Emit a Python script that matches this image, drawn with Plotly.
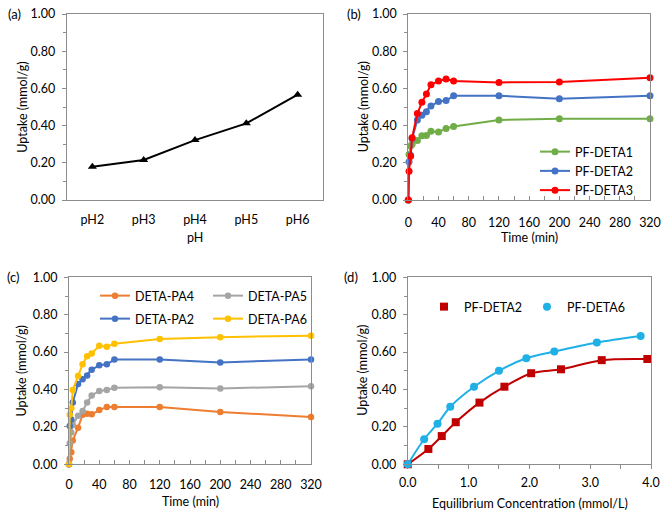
import plotly.graph_objects as go

# ---------------- data ----------------
ph_labels = ["pH2", "pH3", "pH4", "pH5", "pH6"]
ph_uptake = [0.179, 0.215, 0.322, 0.412, 0.566]

times = [0, 1, 3, 5, 12, 18, 24, 30, 40, 50, 60, 120, 200, 320]
pf_deta1 = [0, 0.245, 0.29, 0.30, 0.32, 0.345, 0.347, 0.37, 0.365, 0.385, 0.395, 0.43, 0.437, 0.437]
pf_deta2 = [0, 0.205, 0.24, 0.33, 0.43, 0.455, 0.475, 0.505, 0.53, 0.535, 0.56, 0.56, 0.545, 0.56]
pf_deta3 = [0, 0.155, 0.235, 0.335, 0.465, 0.525, 0.57, 0.62, 0.64, 0.65, 0.64, 0.632, 0.635, 0.657]

deta_pa4 = [0, 0.03, 0.064, 0.127, 0.196, 0.265, 0.27, 0.267, 0.29, 0.307, 0.307, 0.307, 0.28, 0.253]
deta_pa5 = [0, 0.113, 0.17, 0.21, 0.26, 0.285, 0.33, 0.368, 0.392, 0.397, 0.41, 0.412, 0.405, 0.418]
deta_pa2 = pf_deta2
deta_pa6 = [0, 0.265, 0.30, 0.397, 0.472, 0.535, 0.578, 0.593, 0.634, 0.628, 0.645, 0.67, 0.68, 0.688]

ce_deta2 = [0, 0.34, 0.56, 0.79, 1.18, 1.59, 2.03, 2.52, 3.19, 3.94]
q_deta2 = [0, 0.082, 0.151, 0.225, 0.33, 0.415, 0.487, 0.508, 0.557, 0.563]
ce_deta6 = [0, 0.27, 0.49, 0.70, 1.09, 1.50, 1.95, 2.41, 3.11, 3.83]
q_deta6 = [0, 0.134, 0.217, 0.308, 0.415, 0.50, 0.567, 0.603, 0.651, 0.686]

y_title = "Uptake (mmol/g)"
x_titles = ["pH", "Time (min)", "Time (min)", "Equilibrium Concentration (mmol/L)"]
panel_labels = ["(a)", "(b)", "(c)", "(d)"]

# ---------------- styling ----------------
FONT = "Lato"
FS = 12.5
AXC = "#8c8c8c"
W, H = 671, 516

fig = go.Figure()

def line_trace(x, y, name, color, xa, ya, legend=None, symbol="circle", size=7, show=True):
    fig.add_trace(go.Scatter(
        x=x, y=y, name=name, mode="lines+markers",
        line=dict(color=color, width=2),
        marker=dict(color=color, size=size, symbol=symbol),
        xaxis=xa, yaxis=ya, cliponaxis=False,
        showlegend=show, legend=legend))

# (a)
line_trace(ph_labels, ph_uptake, "pH", "#000000", "x", "y", symbol="triangle-up", size=8, show=False)
# (b)
line_trace(times, pf_deta1, "PF-DETA1", "#70AD47", "x2", "y2", legend="legend")
line_trace(times, pf_deta2, "PF-DETA2", "#4472C4", "x2", "y2", legend="legend")
line_trace(times, pf_deta3, "PF-DETA3", "#FF0000", "x2", "y2", legend="legend")
# (c)
line_trace(times, deta_pa4, "DETA-PA4", "#ED7D31", "x3", "y3", legend="legend2", size=6.5)
line_trace(times, deta_pa5, "DETA-PA5", "#A5A5A5", "x3", "y3", legend="legend2", size=6.5)
line_trace(times, deta_pa2, "DETA-PA2", "#4472C4", "x3", "y3", legend="legend4", size=6.5)
line_trace(times, deta_pa6, "DETA-PA6", "#FFC000", "x3", "y3", legend="legend4", size=6.5)
# (d) smooth lines + markers
for ce, q, name, color, sym in [(ce_deta2, q_deta2, "PF-DETA2", "#C00000", "square"),
                                 (ce_deta6, q_deta6, "PF-DETA6", "#1FB0E6", "circle")]:
    fig.add_trace(go.Scatter(x=ce, y=q, mode="lines", line=dict(color=color, width=2, shape="spline", smoothing=0.8),
                             xaxis="x4", yaxis="y4", showlegend=False, hoverinfo="skip", cliponaxis=False))
    fig.add_trace(go.Scatter(x=ce, y=q, name=name, mode="markers",
                             marker=dict(color=color, size=8, symbol=sym),
                             xaxis="x4", yaxis="y4", legend="legend3", cliponaxis=False))

def px_x(p):
    return p / W

def px_y(p):
    return 1 - p / H

doms = {
    "a": ([px_x(66.7), px_x(323.3)], [px_y(200), px_y(14)]),
    "b": ([px_x(408.3), px_x(650)], [px_y(200), px_y(14)]),
    "c": ([px_x(69), px_x(311)], [px_y(464.3), px_y(277.3)]),
    "d": ([px_x(407.7), px_x(651)], [px_y(464.3), px_y(277.3)]),
}

def yaxis(dom, anchor):
    return dict(domain=dom, anchor=anchor, range=[0, 1], dtick=0.2, tickformat=".2f",
                showline=True, linecolor=AXC, linewidth=1, mirror=True,
                ticks="outside", ticklen=4, tickcolor=AXC,
                minor=dict(dtick=0.1, ticks="outside", ticklen=3, tickcolor=AXC),
                showgrid=False, zeroline=False, ticklabelstandoff=4, automargin=False,
                tickfont=dict(size=FS, family=FONT, color="#000"))

def xaxis(dom, anchor, **kw):
    d = dict(domain=dom, anchor=anchor, showline=True, linecolor=AXC, linewidth=1, mirror=True,
             showgrid=False, zeroline=False, tickcolor=AXC, automargin=False,
             tickfont=dict(size=FS, family=FONT, color="#000"))
    d.update(kw)
    return d

LEG = dict(xref="container", yref="container", xanchor="left", yanchor="top",
           bgcolor="rgba(0,0,0,0)", font=dict(size=FS, family=FONT))

def ann(text, x, y, angle=0, size=FS):
    return dict(text=text, x=px_x(x), y=px_y(y), xref="paper", yref="paper",
                xanchor="center", yanchor="middle", showarrow=False, textangle=angle,
                font=dict(size=size, family=FONT, color="#000"))

annotations = [
    ann(panel_labels[0], 14, 14, size=13), ann(panel_labels[1], 354, 14, size=13),
    ann(panel_labels[2], 13, 277, size=13), ann(panel_labels[3], 351, 277, size=13),
    ann(y_title, 21.7, 107, -90), ann(y_title, 363.3, 107, -90),
    ann(y_title, 21.7, 370.8, -90), ann(y_title, 363, 370.8, -90),
    ann(x_titles[0], 195, 238), ann(x_titles[1], 529.5, 237.7),
    ann(x_titles[2], 190.8, 501.7), ann(x_titles[3], 530, 503),
]

fig.update_layout(
    width=W, height=H, margin=dict(l=0, r=0, t=0, b=0, autoexpand=False),
    paper_bgcolor="white", plot_bgcolor="white",
    font=dict(family=FONT, size=FS, color="#000"),
    xaxis=xaxis(doms["a"][0], "y", type="category", range=[-0.5, 4.5], ticks="", ticklabelstandoff=8),
    yaxis=yaxis(doms["a"][1], "x"),
    xaxis2=xaxis(doms["b"][0], "y2", range=[0, 320], dtick=40, ticks="inside", ticklen=4,
                 minor=dict(dtick=20, ticks="inside", ticklen=4, tickcolor=AXC), ticklabelstandoff=11),
    yaxis2=yaxis(doms["b"][1], "x2"),
    xaxis3=xaxis(doms["c"][0], "y3", range=[0, 320], dtick=40, ticks="inside", ticklen=4,
                 minor=dict(dtick=20, ticks="inside", ticklen=4, tickcolor=AXC), ticklabelstandoff=9),
    yaxis3=yaxis(doms["c"][1], "x3"),
    xaxis4=xaxis(doms["d"][0], "y4", range=[0, 4], dtick=1,
                 tickformat=".1f", ticks="outside", ticklen=4,
                 minor=dict(dtick=0.5, ticks="outside", ticklen=4, tickcolor=AXC), ticklabelstandoff=3),
    yaxis4=yaxis(doms["d"][1], "x4"),
    legend=dict(LEG, x=px_x(535), y=px_y(137), tracegroupgap=0, itemwidth=30),
    legend2=dict(LEG, orientation="h", x=px_x(95), y=px_y(281), entrywidth=68, entrywidthmode="pixels"),
    legend4=dict(LEG, orientation="h", x=px_x(95), y=px_y(304), entrywidth=68, entrywidthmode="pixels"),
    legend3=dict(LEG, orientation="h", x=px_x(424), y=px_y(292), itemwidth=30),
    annotations=annotations,
)

fig.write_html("out.html")
